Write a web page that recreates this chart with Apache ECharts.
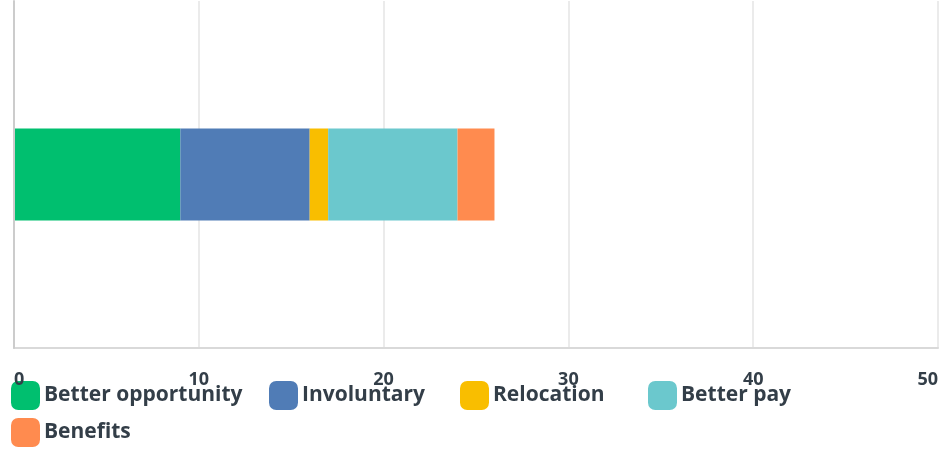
<!DOCTYPE html>
<html>
<head>
<meta charset="utf-8">
<script src="https://cdn.jsdelivr.net/npm/echarts@6/dist/echarts.min.js"></script>
<style>
  html, body { margin: 0; padding: 0; background: #fff; }
  #chart { width: 941px; height: 449px; }
</style>
</head>
<body>
<div id="chart"></div>
<script>
// Reasons for leaving: one stacked horizontal bar
const categories = ['Reasons'];
const seriesNames = ['Better opportunity', 'Involuntary', 'Relocation', 'Better pay', 'Benefits'];
const seriesValues = [
  [9],  // Better opportunity
  [7],  // Involuntary
  [1],  // Relocation
  [7],  // Better pay
  [2]   // Benefits
];
const seriesColors = ['#00BF6F', '#507CB6', '#F9BE00', '#6BC8CD', '#FF8B4F'];
const axisMin = 0, axisMax = 50, axisStep = 10;

const textColor = '#333E48';
const fontFamily = '"Open Sans", Lato, sans-serif';

// legend slots: [left, top] for each series key
const legendSlots = [[11, 381], [269, 381], [460, 381], [648, 381], [11, 418]];

const legendBase = {
  icon: 'roundRect',
  itemWidth: 29,
  itemHeight: 29,
  itemGap: 24,
  padding: 0,
  z: 2,
  textStyle: {
    color: textColor,
    fontFamily: fontFamily,
    fontWeight: 700,
    fontSize: 21,
    padding: [0, 0, 0, -1]
  }
};

const chart = echarts.init(document.getElementById('chart'), null, { renderer: 'canvas' });

chart.setOption({
  animation: false,
  backgroundColor: '#fff',
  grid: { left: 14, right: 2, top: 1, bottom: 101, containLabel: false },
  xAxis: {
    type: 'value',
    min: axisMin,
    max: axisMax,
    interval: axisStep,
    z: 10,
    axisLine: { show: true, lineStyle: { color: '#d9d9d9', width: 2 } },
    axisTick: { show: false },
    splitLine: { show: true, lineStyle: { color: '#ebebeb', width: 2 } },
    axisLabel: {
      color: textColor,
      fontFamily: fontFamily,
      fontWeight: 700,
      fontSize: 18,
      margin: 23,
      alignMinLabel: 'left',
      alignMaxLabel: 'right'
    }
  },
  yAxis: {
    type: 'category',
    data: categories,
    z: 30,
    axisLine: { show: true, lineStyle: { color: '#cccccc', width: 2 } },
    axisTick: { show: false },
    axisLabel: { show: false },
    splitLine: { show: false }
  },
  legend: seriesNames.map((name, i) => Object.assign({}, legendBase, {
    data: [name],
    left: legendSlots[i][0],
    top: legendSlots[i][1]
  })),
  series: seriesNames.map((name, i) => ({
    name: name,
    type: 'bar',
    stack: 'total',
    barWidth: 92,
    z: 20,
    data: seriesValues[i],
    itemStyle: { color: seriesColors[i] },
    emphasis: { disabled: true }
  }))
});
</script>
</body>
</html>
